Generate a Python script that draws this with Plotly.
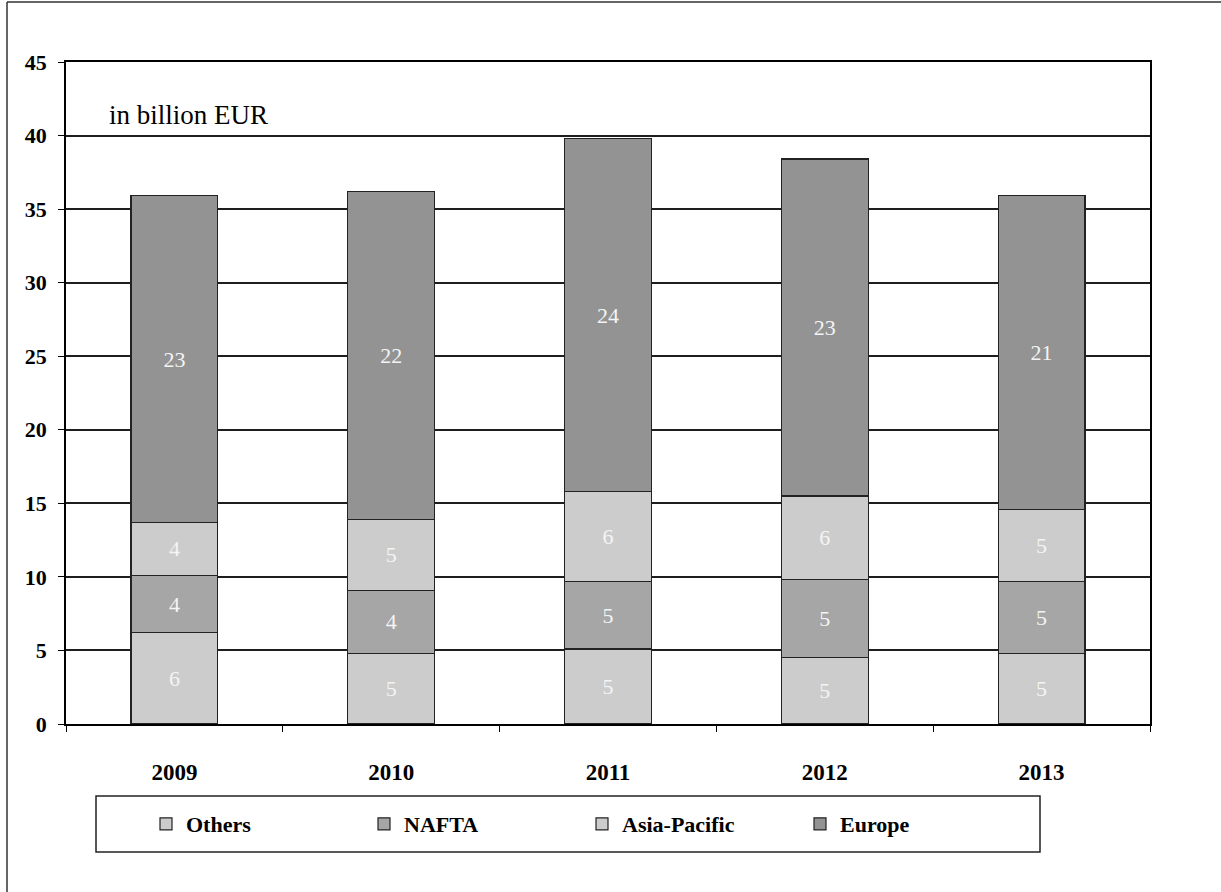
import plotly.graph_objects as go

years = ["2009", "2010", "2011", "2012", "2013"]
others = [6.2, 4.8, 5.1, 4.5, 4.8]
nafta = [3.9, 4.3, 4.6, 5.3, 4.9]
asia_pacific = [3.6, 4.8, 6.1, 5.7, 4.9]
europe = [22.2, 22.3, 24.0, 22.9, 21.3]
others_lbl = ["6", "5", "5", "5", "5"]
nafta_lbl = ["4", "4", "5", "5", "5"]
asia_lbl = ["4", "5", "6", "6", "5"]
europe_lbl = ["23", "22", "24", "23", "21"]

W, H = 1221, 892
L, R, T, B = 66, 1150, 62, 724  # plot area in px


def px(x):
    return (x - L) / (R - L)


def py(y):
    return (B - y) / (B - T)


SERIF = "Liberation Serif"
series = [
    ("Others", others, others_lbl, "#CCCCCC"),
    ("NAFTA", nafta, nafta_lbl, "#A6A6A6"),
    ("Asia-Pacific", asia_pacific, asia_lbl, "#CCCCCC"),
    ("Europe", europe, europe_lbl, "#939393"),
]

fig = go.Figure()
for name, vals, lbl, col in series:
    fig.add_trace(go.Bar(
        x=years, y=vals, name=name, text=lbl,
        textposition="inside", insidetextanchor="middle", textangle=0,
        constraintext="none",
        textfont=dict(family=SERIF, size=22, color="#F4F4F4"),
        marker=dict(color=col, line=dict(color="#222222", width=1.2)),
        hoverinfo="skip",
    ))

fig.update_layout(
    width=W, height=H,
    margin=dict(l=L, r=W - R, t=T, b=H - B, pad=0),
    barmode="stack", bargap=0.6,
    plot_bgcolor="white", paper_bgcolor="white",
    showlegend=True,
    legend=dict(
        orientation="h", x=px(146), xanchor="left", y=py(824), yanchor="middle",
        font=dict(family=SERIF, size=22, color="black", weight="bold"),
        entrywidth=173, entrywidthmode="pixels",
        traceorder="normal", bgcolor="rgba(0,0,0,0)", borderwidth=0,
        itemclick=False, itemdoubleclick=False,
    ),
    xaxis=dict(
        type="category", tickson="boundaries", ticks="outside", ticklen=6,
        tickcolor="black", tickwidth=1.2,
        showline=True, linecolor="black", linewidth=1.5, mirror=True,
        tickfont=dict(family=SERIF, size=23, color="black", weight="bold"),
        ticklabelstandoff=27, showgrid=False, fixedrange=True,
    ),
    yaxis=dict(
        range=[0, 45], dtick=5, tick0=0, ticks="outside", ticklen=6,
        tickcolor="black", tickwidth=1.2,
        showline=True, linecolor="black", linewidth=1.5, mirror=True,
        showgrid=True, gridcolor="#1e1e1e", gridwidth=1.5, zeroline=False,
        tickfont=dict(family=SERIF, size=22, color="black", weight="bold"),
        ticklabelstandoff=7, fixedrange=True,
    ),
    annotations=[dict(
        text="in billion EUR", xref="paper", yref="paper",
        x=px(107), y=py(115), xanchor="left", yanchor="middle", showarrow=False,
        font=dict(family=SERIF, size=27, color="black"),
    )],
    shapes=[
        dict(type="rect", xref="paper", yref="paper",
             x0=px(96), x1=px(1040), y0=py(852), y1=py(796),
             line=dict(color="#222222", width=1.5), layer="below"),
        dict(type="line", xref="paper", yref="paper",
             x0=px(7), x1=px(1225), y0=py(2), y1=py(2),
             line=dict(color="#333333", width=1.5)),
        dict(type="line", xref="paper", yref="paper",
             x0=px(7), x1=px(7), y0=py(2), y1=py(900),
             line=dict(color="#333333", width=1.5)),
    ],
)

fig.write_html("out.html", config={"displayModeBar": False})
